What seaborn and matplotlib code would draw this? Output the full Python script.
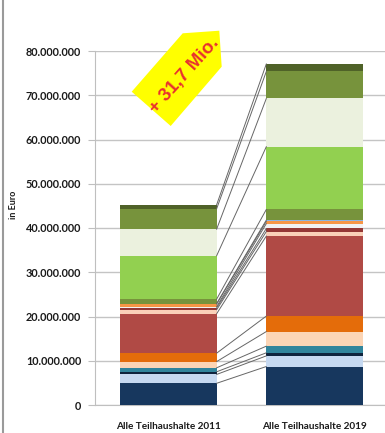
import numpy as np
import matplotlib
matplotlib.use("Agg")
import matplotlib.pyplot as plt
from matplotlib.lines import Line2D
from matplotlib.patches import Polygon
import seaborn as sns

# ---- data (values in Mio. Euro) ----
categories = ["Alle Teilhaushalte 2011", "Alle Teilhaushalte 2019"]
segment_names = ["S01", "S02", "S03", "S04", "S05", "S06", "S07", "S08", "S09",
                 "S10", "S11", "S12", "S13", "S14", "S15", "S16", "S17"]
values_2011 = [4.9, 2.0, 0.6, 0.9, 1.4, 1.9, 8.9, 0.9, 0.4, 0.3, 0.6, 0.1, 1.0, 9.8, 6.0, 4.6, 0.9]
values_2019 = [8.7, 2.4, 0.7, 1.5, 3.3, 3.5, 18.1, 1.0, 0.7, 1.1, 0.5, 0.3, 2.4, 14.2, 10.9, 6.1, 1.7]
segment_colors = ["#17375E", "#C6D9F1", "#0F243E", "#31859C", "#FCD5B5", "#E46C0A",
                  "#B04A45", "#FAD0B8", "#953735", "#F2F2F2", "#F79646", "#8DB4E2",
                  "#77933C", "#92D050", "#EBF1DE", "#77933C", "#4F6228"]
y_ticks = [0, 10_000_000, 20_000_000, 30_000_000, 40_000_000,
           50_000_000, 60_000_000, 70_000_000, 80_000_000]
annotation = "+ 31,7 Mio."
y_label = "in Euro"

sns.set_style("white")
plt.rcParams["font.family"] = ["Lato", "DejaVu Sans"]

fig = plt.figure(figsize=(3.85, 4.33), dpi=100)
ax = fig.add_axes([95 / 385, 28 / 433, 1 - 95 / 385, (405 - 51) / 433])

cum11 = np.cumsum(values_2011) * 1e6
cum19 = np.cumsum(values_2019) * 1e6
bar_w = 0.66

# stacked bars: draw cumulative totals from the top layer down
for k in range(len(segment_names) - 1, -1, -1):
    sns.barplot(x=categories, y=[cum11[k], cum19[k]], color=segment_colors[k],
                saturation=1, width=bar_w, linewidth=0, edgecolor="none",
                ax=ax, zorder=3)

# series lines between bars
for k in range(len(segment_names)):
    ax.plot([0 + bar_w / 2, 1 - bar_w / 2], [cum11[k], cum19[k]],
            color="#666666", lw=0.7, zorder=4)

ax.set_xlim(-0.5, 1.48)
ax.set_ylim(0, 80_000_000)
ax.set_yticks(y_ticks)
ax.set_yticklabels([f"{v:,}".replace(",", ".") for v in y_ticks],
                   fontsize=7.8, fontweight="bold", color="#1a1a1a")
ax.set_xticks([0, 1])
ax.set_xticklabels(categories, fontsize=7.2, fontweight="bold", color="#1a1a1a")
ax.set_xticks([0.5], minor=True)
ax.tick_params(axis="x", which="major", length=0, pad=12)
ax.tick_params(axis="x", which="minor", length=5, color="#bfbfbf", width=0.8)
ax.tick_params(axis="y", length=5, color="#bfbfbf", width=0.8, pad=5, left=True)
ax.grid(axis="y", color="#c4c4c4", lw=1, zorder=0)
ax.set_axisbelow(True)
for s in ["top", "right"]:
    ax.spines[s].set_visible(False)
for s in ["left", "bottom"]:
    ax.spines[s].set_color("#bfbfbf")
    ax.spines[s].set_linewidth(0.8)
ax.set_xlabel("")
ax.set_ylabel(y_label, fontsize=6.5, fontweight="bold", color="#1a1a1a")
ax.yaxis.set_label_coords(-0.265, 0.565)

# yellow tag with annotation
def px(x, y):
    return (x / 385, 1 - y / 433)

tag = Polygon([px(131.7, 91.7), px(182.7, 33.3), px(219.3, 30.7),
               px(221.7, 66.7), px(170.7, 126)], closed=True,
              transform=fig.transFigure, facecolor="#FFFF00", edgecolor="none", zorder=5)
fig.add_artist(tag)
fig.text(*px(184, 76), annotation, transform=fig.transFigure, rotation=48,
         rotation_mode="anchor", ha="center", va="center", color="#E8312F",
         fontsize=13.5, fontweight="bold", family=["Liberation Sans", "DejaVu Sans"], zorder=6)

# left frame line of the original screenshot
fig.add_artist(Line2D([2.5 / 385, 2.5 / 385], [0, 1], transform=fig.transFigure,
                      color="#9a9a9a", lw=1.5))

fig.savefig("out.png", dpi=100)
